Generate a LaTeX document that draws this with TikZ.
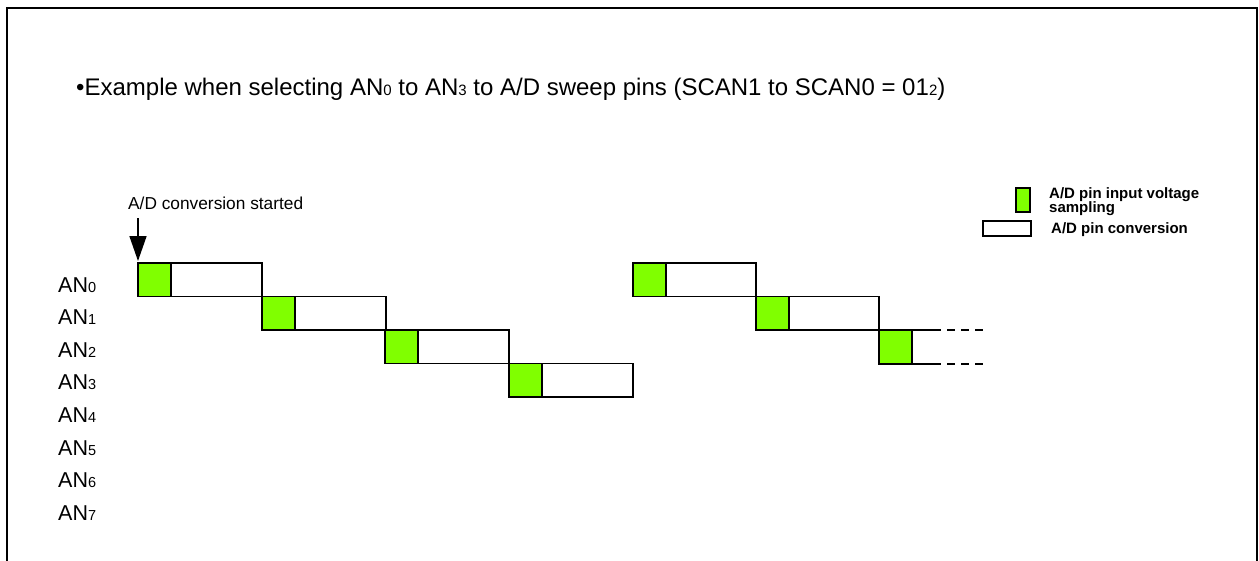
\documentclass[tikz,border=0pt]{standalone}
\usepackage{fontspec}
\setmainfont{Liberation Sans}
\usetikzlibrary{arrows.meta}
\definecolor{sampgreen}{RGB}{128,255,0}
\newcommand{\anidx}[1]{{\fontsize{14.5}{14.5}\selectfont #1}}
\newcommand{\ttidx}[1]{{\fontsize{15}{15}\selectfont #1}}
\begin{document}
\begin{tikzpicture}[x=1pt,y=-1pt,
  samp/.style={draw=black,line width=1.3pt,fill=sampgreen},
  conv/.style={draw=black,line width=1.3pt,fill=white},
  lab/.style={anchor=base west,inner sep=0pt,font=\fontsize{21.5}{21.5}\selectfont},
  every node/.style={inner sep=0pt}]
\useasboundingbox (0,0) rectangle (1259,560);
\draw[line width=2pt] (7,575) -- (7,8) -- (1257,8) -- (1257,575);
\node[anchor=base west,font=\fontsize{24}{24}\selectfont] (title) at (76,95.5) {\textbullet Example when selecting AN\ttidx{0} to AN\ttidx{3} to A/D sweep pins (SCAN1 to SCAN0 = 01\ttidx{2})};
% labels
\foreach \i in {0,...,7}{
  \node[lab] (an\i) at (58,{292+32.6*\i}) {AN\anidx{\i}};
}
\node[anchor=base west,font=\fontsize{17.3}{17.3}\selectfont] (start) at (128,209.5) {A/D conversion started};
\coordinate (arrtop) at (138,218);
\coordinate (arrtip) at (138,261);
\draw[line width=1.6pt,-{Triangle[width=17pt,length=25pt]}] (arrtop) -- (arrtip);
% first sequence
\foreach \r/\x in {0/138,1/262,2/385,3/509}{
  \pgfmathsetmacro\yt{263+33.5*\r}
  \pgfmathsetmacro\yb{263+33.5*(\r+1)}
  \draw[conv] (\x+33,\yt) rectangle (\x+124,\yb);
  \draw[samp] (\x,\yt) rectangle (\x+33,\yb);
}
% second sequence
\foreach \r/\x in {0/633,1/756}{
  \pgfmathsetmacro\yt{263+33.5*\r}
  \pgfmathsetmacro\yb{263+33.5*(\r+1)}
  \draw[conv] (\x+33,\yt) rectangle (\x+123,\yb);
  \draw[samp] (\x,\yt) rectangle (\x+33,\yb);
}
\draw[samp] (879,330) rectangle (912,364);
\coordinate (d1) at (933,330);
\coordinate (d2) at (933,364);
\draw[line width=1.3pt] (912,330) -- (d1);
\draw[line width=1.3pt] (912,364) -- (d2);
\draw[line width=1.3pt,dash pattern=on 8pt off 6pt] (d1) -- ++(50,0);
\draw[line width=1.3pt,dash pattern=on 8pt off 6pt] (d2) -- ++(50,0);
% legend
\draw[samp] (1016,188) rectangle (1030,212);
\draw[conv] (983,221) rectangle (1031,236);
\node[anchor=base west,font=\bfseries\fontsize{15}{15}\selectfont] (lg1) at (1049,198) {A/D pin input voltage};
\node[anchor=base west,font=\bfseries\fontsize{15}{15}\selectfont] (lg1b) at (1049,212.5) {sampling};
\node[anchor=base west,font=\bfseries\fontsize{15}{15}\selectfont] (lg2) at (1051,233.5) {A/D pin conversion};
\end{tikzpicture}
\end{document}
